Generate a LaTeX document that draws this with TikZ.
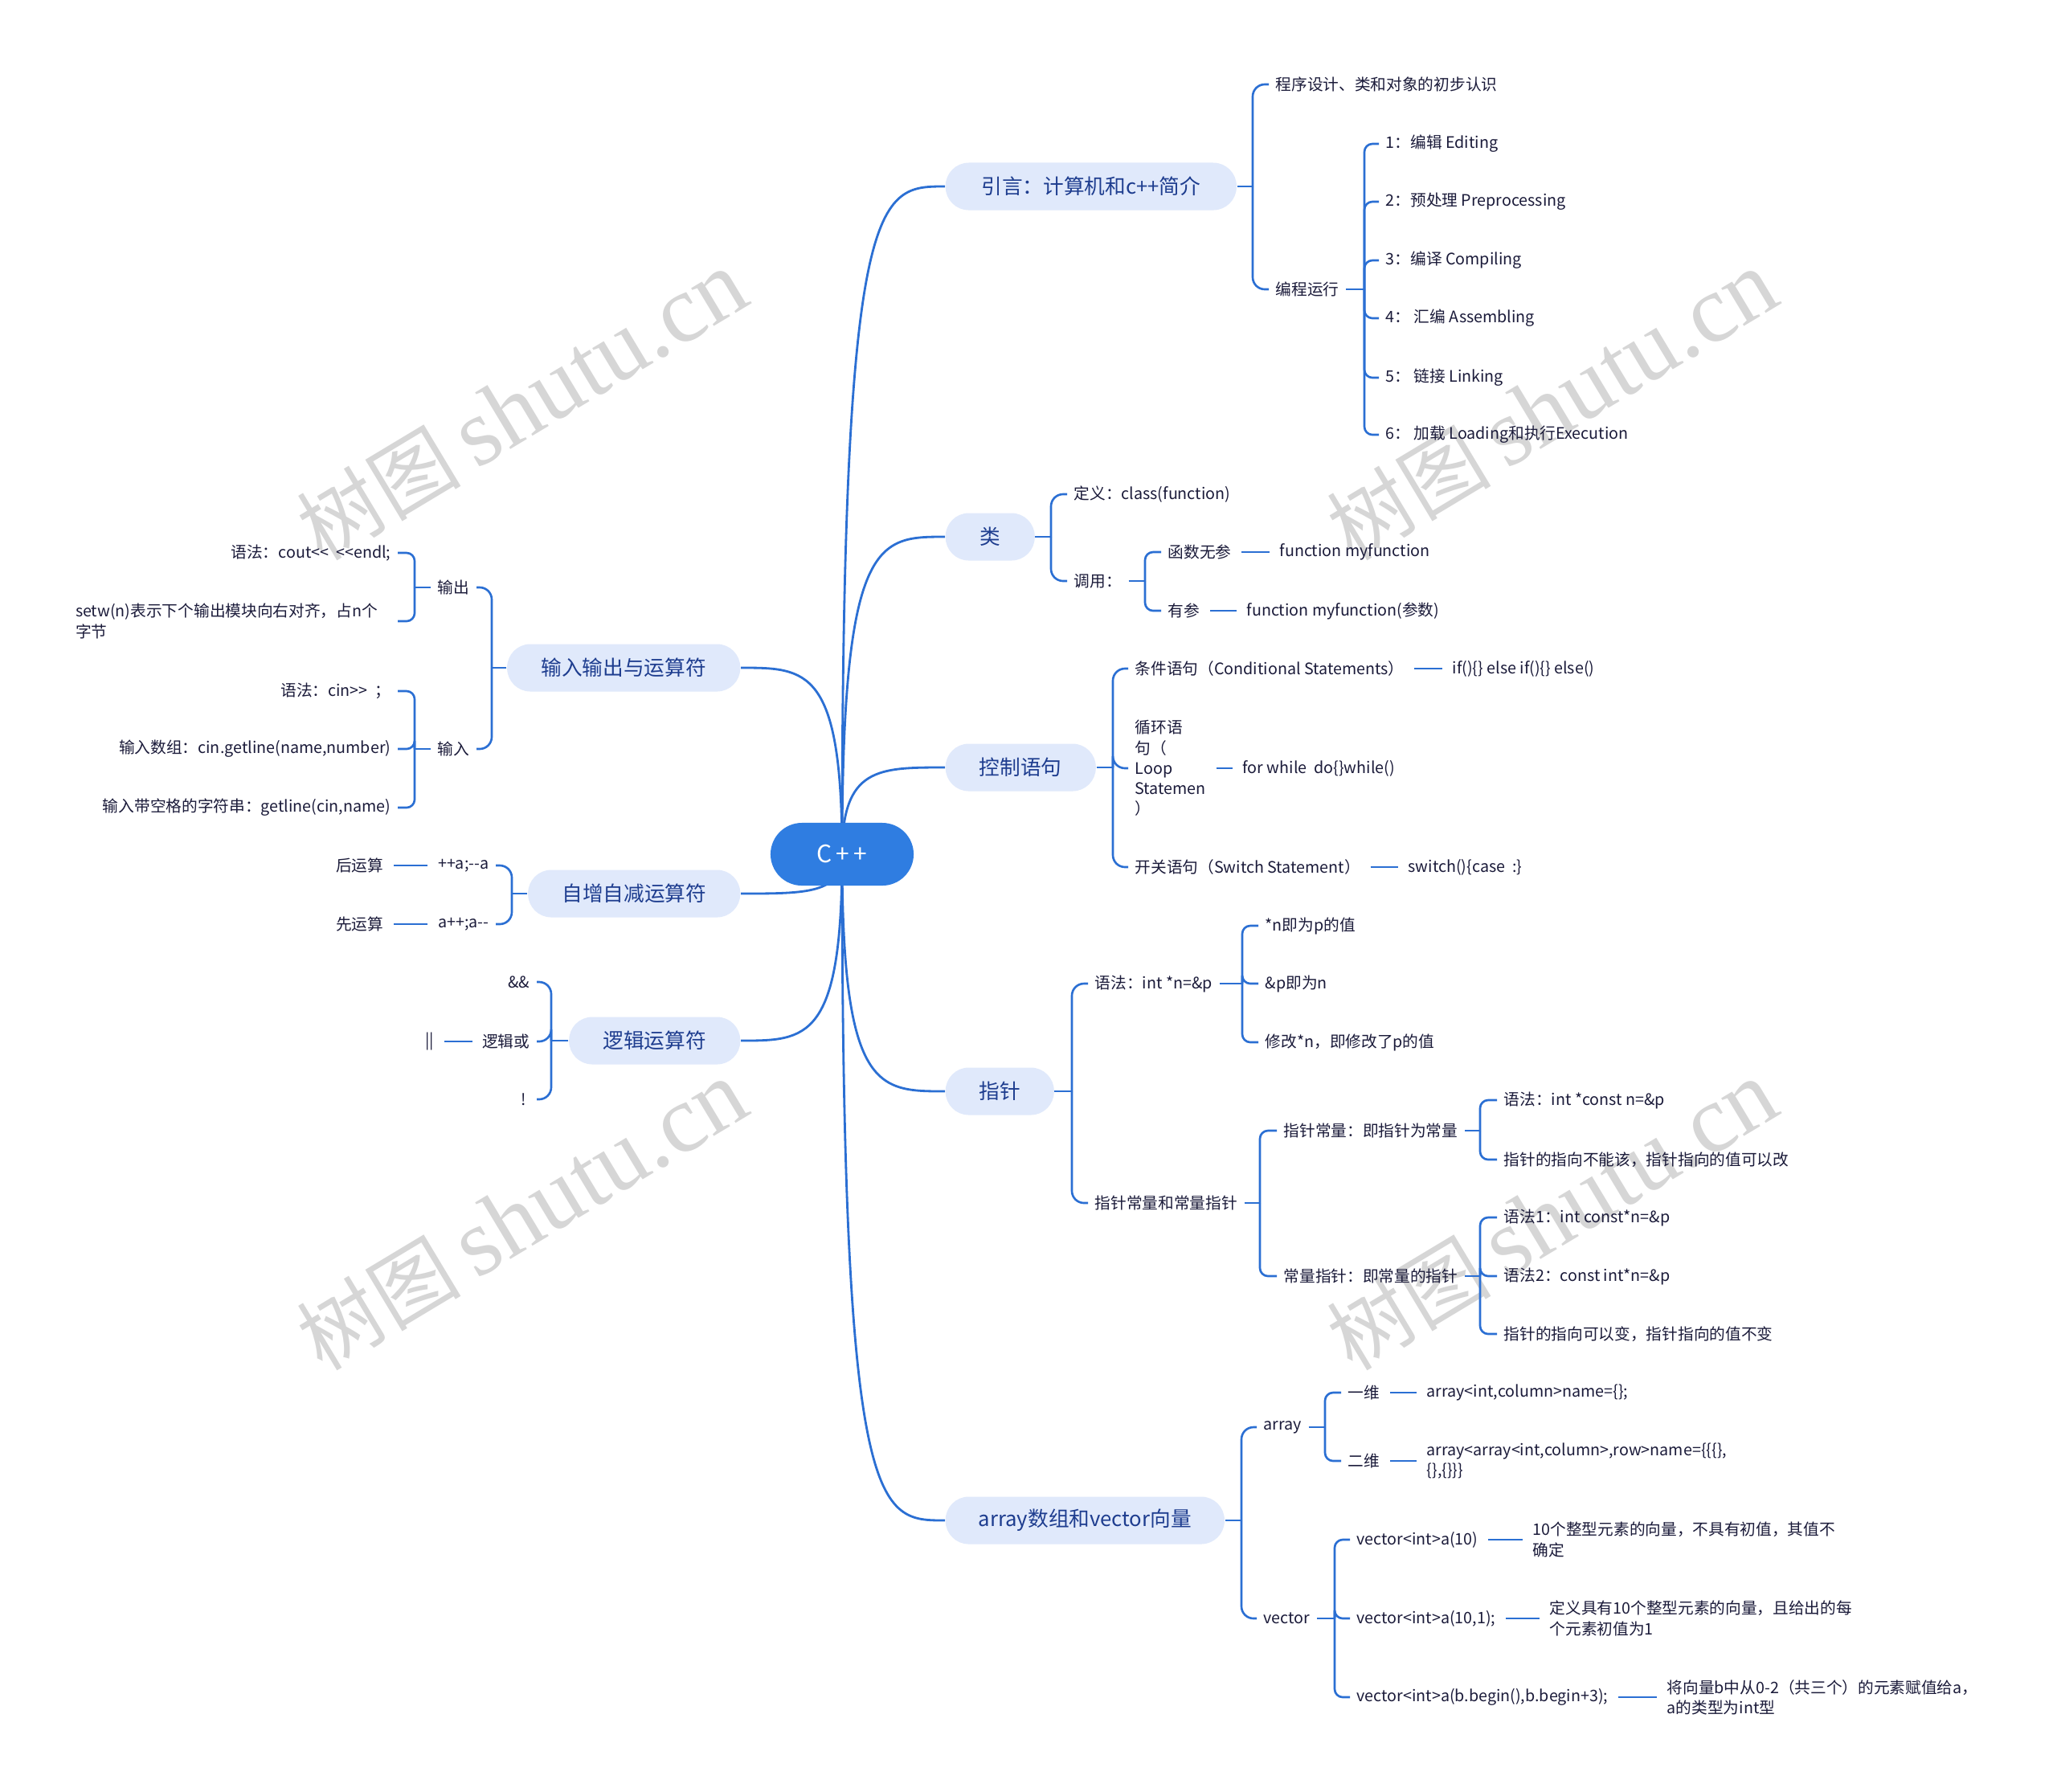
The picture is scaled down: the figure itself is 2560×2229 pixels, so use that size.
\documentclass[tikz,border=0pt]{standalone}
\usepackage{fontspec}
\newfontfamily\cjkfont{Noto Sans CJK SC}
\newfontfamily\wmfont{Liberation Serif}
\usetikzlibrary{calc,backgrounds}
\definecolor{lineblue}{HTML}{2B6FD3}
\definecolor{rootblue}{HTML}{2F7DE1}
\definecolor{boxfill}{HTML}{E0E9FB}
\definecolor{maintext}{HTML}{1E3D8F}
\definecolor{leaftext}{HTML}{1B1B3A}
\definecolor{wmgray}{HTML}{D6D6D6}
\tikzset{
  rootnode/.style={fill=rootblue, text=white, rounded corners=3.9mm, minimum width=17.8mm, minimum height=7.8mm, inner sep=0pt, font=\cjkfont\fontsize{8.5pt}{10pt}\selectfont},
  mainnode/.style={fill=boxfill, text=maintext, rounded corners=2.9mm, minimum height=5.9mm, inner sep=0pt, font=\cjkfont\fontsize{7.3pt}{9pt}\selectfont},
  leaf/.style={text=leaftext, inner xsep=0.8mm, inner ysep=0.4mm, font=\cjkfont\fontsize{5.6pt}{7.2pt}\selectfont, align=left},
  ln/.style={draw=lineblue, line width=0.75pt},
  curveln/.style={draw=lineblue, line width=0.8pt},
  brk/.style={ln, rounded corners=1.5mm},
  sbrk/.style={ln, rounded corners=1mm},
  pair/.style={ln, shorten <=0.4mm, shorten >=0.4mm},
  wm/.style={text=wmgray, rotate=31, inner sep=0pt, font=\fontsize{34pt}{36pt}\selectfont},
}
\newcommand\wmtext{{\cjkfont\fontsize{29pt}{30pt}\selectfont 树图}\,{\wmfont shutu.cn}}
\begin{document}
\begin{tikzpicture}[x=0.01cm,y=-0.01cm]
\useasboundingbox (0,0) rectangle (2560,2229);

% root
\node[rootnode] (root) at (1048,1063) {C\,+\,+};

% main branches
\node[mainnode, anchor=west, minimum width=36.2mm] (A) at (1176,232) {引言：计算机和c++简介};
\node[mainnode, anchor=west, minimum width=11.1mm] (B) at (1176,668) {类};
\node[mainnode, anchor=west, minimum width=18.7mm] (C) at (1176,955) {控制语句};
\node[mainnode, anchor=west, minimum width=13.5mm] (D) at (1176,1358) {指针};
\node[mainnode, anchor=west, minimum width=34.7mm] (E) at (1176,1892) {array数组和vector向量};
\node[mainnode, anchor=east, minimum width=29mm] (F) at (922,831) {输入输出与运算符};
\node[mainnode, anchor=east, minimum width=26.4mm] (G) at (922,1112) {自增自减运算符};
\node[mainnode, anchor=east, minimum width=21.3mm] (H) at (922,1295) {逻辑运算符};

% A
\node[leaf, anchor=west] (a1) at (1579,105) {程序设计、类和对象的初步认识};
\node[leaf, anchor=west] (a2) at (1579,360) {编程运行};
\node[leaf, anchor=west] (b1) at (1716,179) {1：编辑 Editing};
\node[leaf, anchor=west] (b2) at (1716,251) {2：预处理 Preprocessing};
\node[leaf, anchor=west] (b3) at (1716,324) {3：编译 Compiling};
\node[leaf, anchor=west] (b4) at (1716,396) {4：\ 汇编 Assembling};
\node[leaf, anchor=west] (b5) at (1716,470) {5：\ 链接 Linking};
\node[leaf, anchor=west] (b6) at (1716,541) {6：\ 加载 Loading和执行Execution};

% B
\node[leaf, anchor=west] (c1) at (1328,615) {定义：class(function)};
\node[leaf, anchor=west] (c2) at (1328,723) {调用：};
\node[leaf, anchor=west] (c21) at (1445,687) {函数无参};
\node[leaf, anchor=west] (c21v) at (1584,687) {function myfunction};
\node[leaf, anchor=west] (c22) at (1445,760) {有参};
\node[leaf, anchor=west] (c22v) at (1543,760) {function myfunction(参数)};

% C
\node[leaf, anchor=west] (d1) at (1404,832) {条件语句（Conditional Statements）};
\node[leaf, anchor=west] (d1v) at (1799,832) {if()\{\} else if()\{\} else()};
\node[leaf, anchor=west] (d2) at (1404,956) {循环语\\句（\\Loop\\Statemen\\）};
\node[leaf, anchor=west] (d2v) at (1538,956) {for while~~do\{\}while()};
\node[leaf, anchor=west] (d3) at (1404,1079) {开关语句（Switch Statement）};
\node[leaf, anchor=west] (d3v) at (1744,1079) {switch()\{case~~:\}};

% D
\node[leaf, anchor=west] (e1) at (1354,1224) {语法：int *n=\&p};
\node[leaf, anchor=west] (e11) at (1566,1152) {*n即为p的值};
\node[leaf, anchor=west] (e12) at (1566,1224) {\&p即为n};
\node[leaf, anchor=west] (e13) at (1566,1297) {修改*n，即修改了p的值};
\node[leaf, anchor=west] (e2) at (1354,1497) {指针常量和常量指针};
\node[leaf, anchor=west] (e21) at (1589,1407) {指针常量：即指针为常量};
\node[leaf, anchor=west] (e211) at (1863,1369) {语法：int *const n=\&p};
\node[leaf, anchor=west] (e212) at (1863,1443) {指针的指向不能该，指针指向的值可以改};
\node[leaf, anchor=west] (e22) at (1589,1588) {常量指针：即常量的指针};
\node[leaf, anchor=west] (e221) at (1863,1515) {语法1：int const*n=\&p};
\node[leaf, anchor=west] (e222) at (1863,1588) {语法2：const int*n=\&p};
\node[leaf, anchor=west] (e223) at (1863,1660) {指针的指向可以变，指针指向的值不变};

% E
\node[leaf, anchor=west] (f1) at (1564,1776) {array};
\node[leaf, anchor=west] (f11) at (1669,1733) {一维};
\node[leaf, anchor=west] (f11v) at (1767,1733) {array<int,column>name=\{\};};
\node[leaf, anchor=west] (f12) at (1669,1818) {二维};
\node[leaf, anchor=west] (f12v) at (1767,1818) {array<array<int,column>,row>name=\{\{\{\},\\\{\},\{\}\}\}};
\node[leaf, anchor=west] (f2) at (1564,2014) {vector};
\node[leaf, anchor=west] (f21) at (1680,1916) {vector<int>a(10)};
\node[leaf, anchor=west] (f21v) at (1899,1916) {10个整型元素的向量，不具有初值，其值不\\确定};
\node[leaf, anchor=west] (f22) at (1680,2014) {vector<int>a(10,1);};
\node[leaf, anchor=west] (f22v) at (1920,2014) {定义具有10个整型元素的向量，且给出的每\\个元素初值为1};
\node[leaf, anchor=west] (f23) at (1680,2112) {vector<int>a(b.begin(),b.begin+3);};
\node[leaf, anchor=west] (f23v) at (2066,2112) {将向量b中从0-2（共三个）的元素赋值给a，\\a的类型为int型};

% F
\node[leaf, anchor=east] (g1) at (593,731) {输出};
\node[leaf, anchor=east] (g11) at (495,688) {语法：cout<<~~<<endl;};
\node[leaf, anchor=east, text width=39.2mm] (g12) at (495,773) {setw(n)表示下个输出模块向右对齐，占n个\\字节};
\node[leaf, anchor=east] (g2) at (593,932) {输入};
\node[leaf, anchor=east] (g21) at (495,860) {语法：cin>>~~；};
\node[leaf, anchor=east] (g22) at (495,932) {输入数组：cin.getline(name,number)};
\node[leaf, anchor=east] (g23) at (495,1005) {输入带空格的字符串：getline(cin,name)};

% G
\node[leaf, anchor=east] (h1) at (617,1077) {++a;--a};
\node[leaf, anchor=east] (h1l) at (486,1077) {后运算};
\node[leaf, anchor=east] (h2) at (617,1150) {a++;a--};
\node[leaf, anchor=east] (h2l) at (486,1150) {先运算};

% H
\node[leaf, anchor=east] (i1) at (668,1222) {\&\&};
\node[leaf, anchor=east] (i2) at (668,1296) {逻辑或};
\node[leaf, anchor=east] (i2l) at (549,1296) {||};
\node[leaf, anchor=east] (i3) at (668,1368) {!\ };

% bracket coordinates
\coordinate (Ab) at (1559,232);
\coordinate (a2b) at (1698,360);
\coordinate (Bb) at (1308,668);
\coordinate (c2b) at (1425,723);
\coordinate (Cb) at (1385,955);
\coordinate (Db) at (1334,1358);
\coordinate (e1b) at (1546,1224);
\coordinate (e2b) at (1568,1497);
\coordinate (e21b) at (1842,1407);
\coordinate (e22b) at (1842,1588);
\coordinate (Eb) at (1545,1892);
\coordinate (f1b) at (1649,1776);
\coordinate (f2b) at (1661,2014);
\coordinate (Fb) at (612,831);
\coordinate (g1b) at (516,731);
\coordinate (g2b) at (516,932);
\coordinate (Gb) at (637,1112);
\coordinate (Hb) at (686,1295);

\begin{scope}[on background layer]
\fill[white] (0,0) rectangle (2560,2229);
% watermarks
\node[wm] (wm1) at (650,505) {\wmtext};
\node[wm] (wm2) at (1932,505) {\wmtext};
\node[wm] (wm3) at (650,1513) {\wmtext};
\node[wm] (wm4) at (1932,1513) {\wmtext};

% root connectors
\foreach \n in {A,B,C,D,E}
  \draw[curveln] (root.center) .. controls (root.center |- \n.west) and ($(root.center |- \n.west)!0.35!(\n.west)$) .. (\n.west);
\foreach \n in {F,G,H}
  \draw[curveln] (root.center) .. controls (root.center |- \n.east) and ($(root.center |- \n.east)!0.35!(\n.east)$) .. (\n.east);

% right brackets
\draw[ln] (A.east) -- (Ab);
\foreach \k in {a1,a2} \draw[brk] (Ab) |- (\k.west);
\draw[ln] (a2.east) -- (a2b);
\foreach \k in {b1,b2,b3,b4,b5,b6} \draw[sbrk] (a2b) |- (\k.west);

\draw[ln] (B.east) -- (Bb);
\foreach \k in {c1,c2} \draw[brk] (Bb) |- (\k.west);
\draw[ln] (c2.east) -- (c2b);
\foreach \k in {c21,c22} \draw[sbrk] (c2b) |- (\k.west);
\draw[pair] (c21.east) -- (c21v.west);
\draw[pair] (c22.east) -- (c22v.west);

\draw[ln] (C.east) -- (Cb);
\foreach \k in {d1,d2,d3} \draw[brk] (Cb) |- (\k.west);
\draw[pair] (d1.east) -- (d1v.west);
\draw[pair] (d2.east) -- (d2v.west);
\draw[pair] (d3.east) -- (d3v.west);

\draw[ln] (D.east) -- (Db);
\foreach \k in {e1,e2} \draw[brk] (Db) |- (\k.west);
\draw[ln] (e1.east) -- (e1b);
\foreach \k in {e11,e12,e13} \draw[sbrk] (e1b) |- (\k.west);
\draw[ln] (e2.east) -- (e2b);
\foreach \k in {e21,e22} \draw[sbrk] (e2b) |- (\k.west);
\draw[ln] (e21.east) -- (e21b);
\foreach \k in {e211,e212} \draw[sbrk] (e21b) |- (\k.west);
\draw[ln] (e22.east) -- (e22b);
\foreach \k in {e221,e222,e223} \draw[sbrk] (e22b) |- (\k.west);

\draw[ln] (E.east) -- (Eb);
\foreach \k in {f1,f2} \draw[brk] (Eb) |- (\k.west);
\draw[ln] (f1.east) -- (f1b);
\foreach \k in {f11,f12} \draw[sbrk] (f1b) |- (\k.west);
\draw[pair] (f11.east) -- (f11v.west);
\draw[pair] (f12.east) -- (f12v.west);
\draw[ln] (f2.east) -- (f2b);
\foreach \k in {f21,f22,f23} \draw[sbrk] (f2b) |- (\k.west);
\draw[pair] (f21.east) -- (f21v.west);
\draw[pair] (f22.east) -- (f22v.west);
\draw[pair] (f23.east) -- (f23v.west);

% left brackets
\draw[ln] (F.west) -- (Fb);
\foreach \k in {g1,g2} \draw[brk] (Fb) |- (\k.east);
\draw[ln] (g1.west) -- (g1b);
\foreach \k in {g11,g12} \draw[sbrk] (g1b) |- (\k.east);
\draw[ln] (g2.west) -- (g2b);
\foreach \k in {g21,g22,g23} \draw[sbrk] (g2b) |- (\k.east);

\draw[ln] (G.west) -- (Gb);
\foreach \k in {h1,h2} \draw[brk] (Gb) |- (\k.east);
\draw[pair] (h1.west) -- (h1l.east);
\draw[pair] (h2.west) -- (h2l.east);

\draw[ln] (H.west) -- (Hb);
\foreach \k in {i1,i2,i3} \draw[brk] (Hb) |- (\k.east);
\draw[pair] (i2.west) -- (i2l.east);
\end{scope}
\end{tikzpicture}
\end{document}
